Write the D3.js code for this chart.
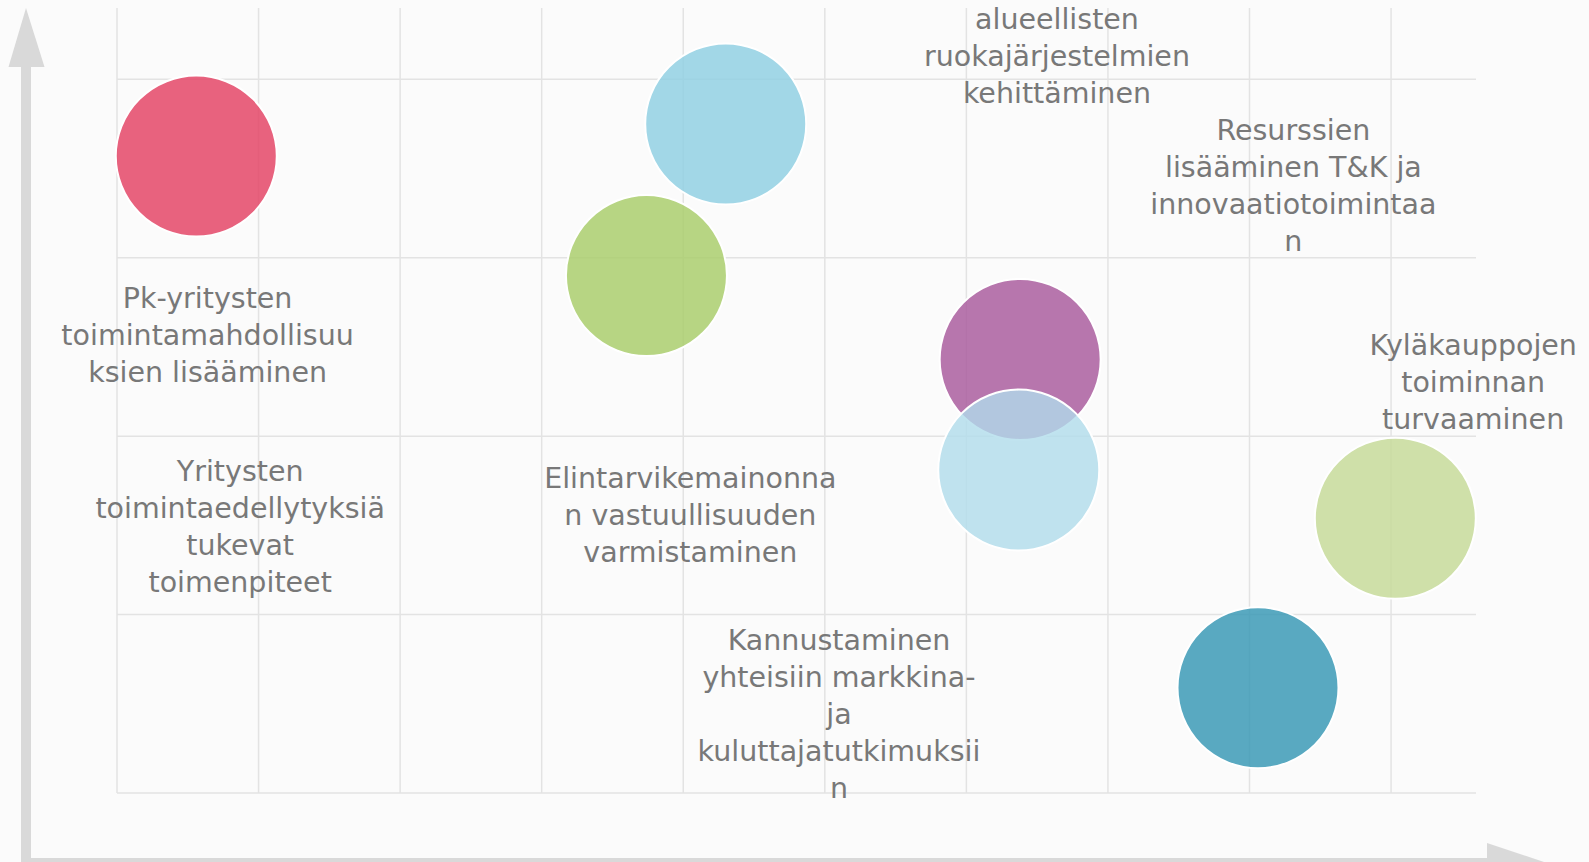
<!DOCTYPE html>
<html>
<head>
<meta charset="utf-8">
<script src="https://cdn.jsdelivr.net/npm/d3@7"></script>
<style>
  html, body { margin: 0; padding: 0; background: #fbfbfb; }
  svg { display: block; }
</style>
</head>
<body>
<svg id="chart" width="1589" height="862"></svg>
<script>
// bubble positions (grid units)
var bubbleX = [0.56, 4.30, 3.74, 6.38, 6.37, 9.03, 8.06]
var bubbleY = [3.57, 3.75, 2.90, 2.43, 1.81, 1.54, 0.59]
var bubbleColors = ['#e43c5f', '#8ccee2', '#a6cc65', '#a6559a', '#b0dceb', '#c4d995', '#3195b3']

// text boxes, one entry per box, lines as they wrap in the picture
var labelLines = [
  ['alueellisten', 'ruokajärjestelmien', 'kehittäminen'],
  ['Resurssien', 'lisääminen T&K ja', 'innovaatiotoimintaa', 'n'],
  ['Pk-yritysten', 'toimintamahdollisuu', 'ksien lisääminen'],
  ['Yritysten', 'toimintaedellytyksiä', 'tukevat', 'toimenpiteet'],
  ['Elintarvikemainonna', 'n vastuullisuuden', 'varmistaminen'],
  ['Kyläkauppojen', 'toiminnan', 'turvaaminen'],
  ['Kannustaminen', 'yhteisiin markkina-', 'ja', 'kuluttajatutkimuksii', 'n']
]
var labelX = [6.64, 8.31, 0.64, 0.87, 4.05, 9.58, 5.10]
var labelY = [4.28, 3.66, 2.72, 1.75, 1.71, 2.455, 0.80]

var xTicks = [0, 1, 2, 3, 4, 5, 6, 7, 8, 9]
var yTicks = [0, 1, 2, 3, 4]

var svg = d3.select('#chart')

var x = d3.scaleLinear().domain([0, 9.6]).range([117, 1476])
var y = d3.scaleLinear().domain([0, 4.4]).range([793, 8])

// grid
var grid = svg.append('g').attr('class', 'grid')
grid.selectAll('line.v')
  .data(xTicks)
  .enter().append('line')
  .attr('class', 'v')
  .attr('x1', d => x(d)).attr('x2', d => x(d))
  .attr('y1', y(0)).attr('y2', y(4.4))
  .attr('stroke', '#e3e3e3')
  .attr('stroke-width', 1.5)
grid.selectAll('line.h')
  .data(yTicks)
  .enter().append('line')
  .attr('class', 'h')
  .attr('x1', x(0)).attr('x2', x(9.6))
  .attr('y1', d => y(d)).attr('y2', d => y(d))
  .attr('stroke', '#e3e3e3')
  .attr('stroke-width', 1.5)

// axis arrows
var axes = svg.append('g').attr('fill', '#d9d9d9')
axes.append('rect').attr('x', 21).attr('y', 66).attr('width', 10).attr('height', 800)
axes.append('path').attr('d', 'M8.5,67 L44.5,67 L26,8 Z')
axes.append('rect').attr('x', 21).attr('y', 858).attr('width', 1467).attr('height', 10)
axes.append('path').attr('d', 'M1487,843 L1487,883 L1547,863 Z')

// bubbles
var bubbles = bubbleX.map(function (v, i) {
  return { x: v, y: bubbleY[i], color: bubbleColors[i] }
})
svg.append('g').selectAll('circle')
  .data(bubbles)
  .enter().append('circle')
  .attr('cx', d => x(d.x))
  .attr('cy', d => y(d.y))
  .attr('r', 80.5)
  .attr('fill', d => d.color)
  .attr('fill-opacity', 0.8)
  .attr('stroke', '#ffffff')
  .attr('stroke-width', 2)

// labels
var lineH = 37
var labels = svg.append('g')
  .attr('font-family', '"DejaVu Sans", sans-serif')
  .attr('font-size', '28.5px')
  .attr('fill', '#787878')
  .attr('text-anchor', 'middle')
labelLines.forEach(function (lines, i) {
  var t = labels.append('text')
    .attr('x', x(labelX[i]))
    .attr('y', y(labelY[i]))
  lines.forEach(function (ln, j) {
    t.append('tspan')
      .attr('x', x(labelX[i]))
      .attr('y', y(labelY[i]) + j * lineH)
      .text(ln)
  })
})
</script>
</body>
</html>
